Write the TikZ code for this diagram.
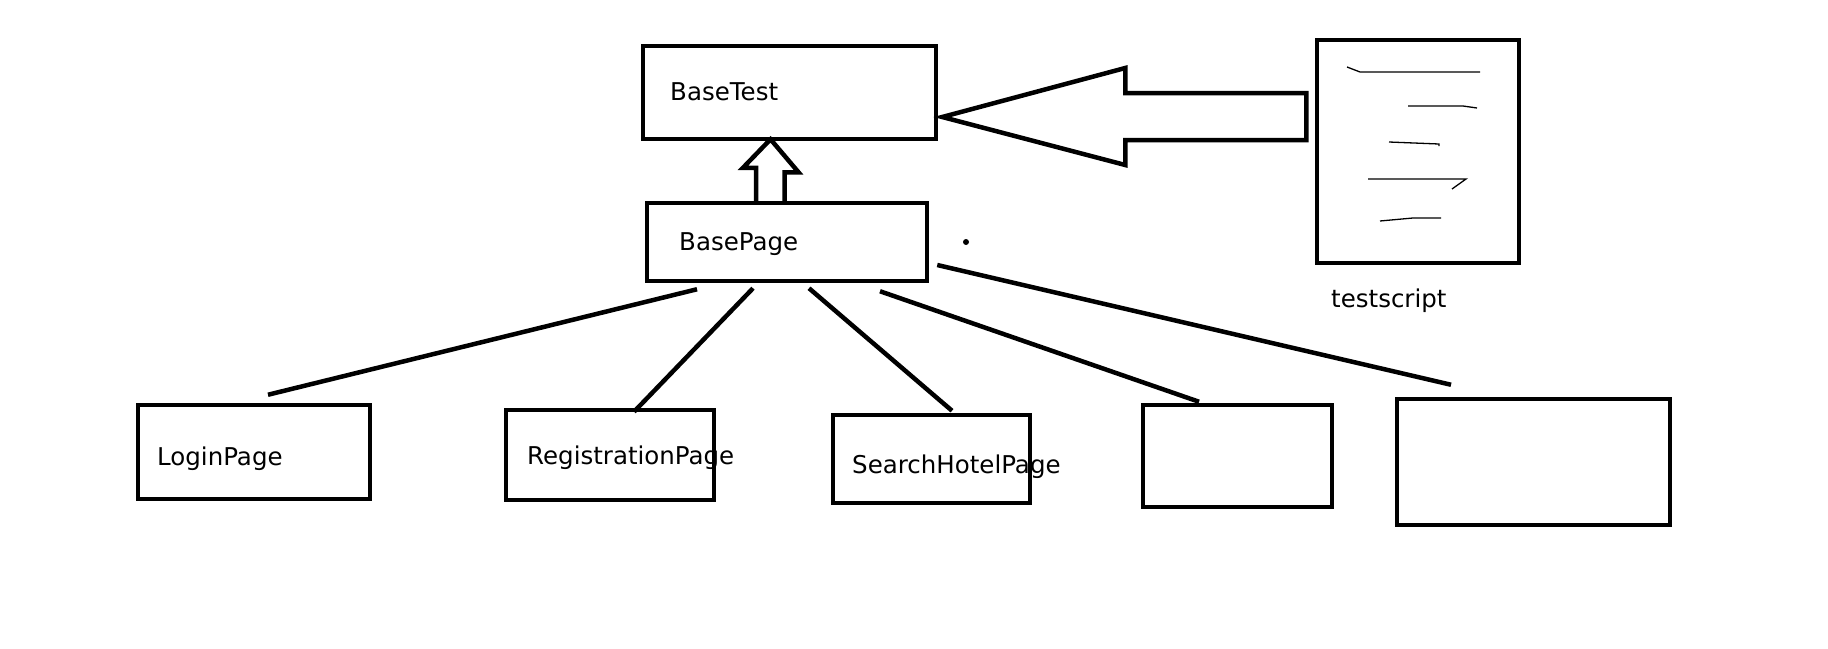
\documentclass[tikz,border=0pt]{standalone}
\usepackage{fontspec}
\setmainfont{DejaVu Sans}
\usetikzlibrary{calc}

\begin{document}
\begin{tikzpicture}[x=1pt,y=-1pt,
    box/.style={draw,line width=4.5pt,inner sep=0pt},
    lbl/.style={anchor=base west,inner sep=0pt,font=\fontsize{24.5}{28}\selectfont},
    link/.style={line width=4.5pt},
    block/.style={line width=4.5pt,line join=miter},
    scribble/.style={line width=1.3pt}]
        \useasboundingbox (0,0) rectangle (1828,648);

        \node[box,minimum width=293pt,minimum height=93pt] (basetest) at (789.5,92.5) {};
        \node[box,minimum width=280pt,minimum height=78pt] (basepage) at (787,242) {};
        \node[box,minimum width=202pt,minimum height=223pt] (script) at (1418,151.5) {};

        \node[box,minimum width=232pt,minimum height=94pt] (login) at (254,452) {};
        \node[box,minimum width=208pt,minimum height=90pt] (register) at (610,455) {};
        \node[box,minimum width=197pt,minimum height=88pt] (search) at (931.5,459) {};
        \node[box,minimum width=189pt,minimum height=102pt] (pagefour) at (1237.5,456) {};
        \node[box,minimum width=273pt,minimum height=126pt] (pagefive) at (1533.5,462) {};

        \node[lbl] at (670,100) {BaseTest};
        \node[lbl] at (679,250) {BasePage};
        \node[lbl] at (157,465) {LoginPage};
        \node[lbl] at (527,464) {RegistrationPage};
        \node[lbl] at (852,473) {SearchHotelPage};
        \node[lbl] at (1331,307) {testscript};

        \draw[block] ([xshift=-31pt]basepage.north) -- ++(0,-33) -- ++(-13,0)
            -- ([xshift=-19pt,yshift=2pt]basetest.south) -- ++(28,33) -- ++(-14,0) -- ++(0,32);

        \draw[block] ([xshift=4pt,yshift=-24.5pt]basetest.east) -- ++(183,-49) -- ++(0,25)
            -- ++(181,0) -- ++(0,47) -- ++(-181,0) -- ++(0,25) -- cycle;

        \draw[link] ([xshift=-90pt,yshift=-6pt]basepage.south) -- ([xshift=14pt,yshift=8pt]login.north);
        \draw[link] ([xshift=-34pt,yshift=-5pt]basepage.south) -- ([xshift=24pt,yshift=-4pt]register.north);
        \draw[link] ([xshift=22pt,yshift=-5pt]basepage.south) -- ([xshift=20.5pt,yshift=2pt]search.north);
        \draw[link] ([xshift=93pt,yshift=-8pt]basepage.south) -- ([xshift=-38.5pt,yshift=1pt]pagefour.north);
        \draw[link] ([xshift=8pt,yshift=-23pt]basepage.east) -- ([xshift=-82.5pt,yshift=12pt]pagefive.north);

        \fill (966,242) circle (3);

        \draw[scribble] (1347,67) -- (1360,72) -- (1480,72);
        \draw[scribble] (1408,106) -- (1463,106) -- (1477,108);
        \draw[scribble] (1389,142) -- (1439,144) -- (1439,146);
        \draw[scribble] (1368,179) -- (1466,179) -- (1452,189);
        \draw[scribble] (1380,221) -- (1413,218) -- (1441,218);
    \end{tikzpicture}
\end{document}
